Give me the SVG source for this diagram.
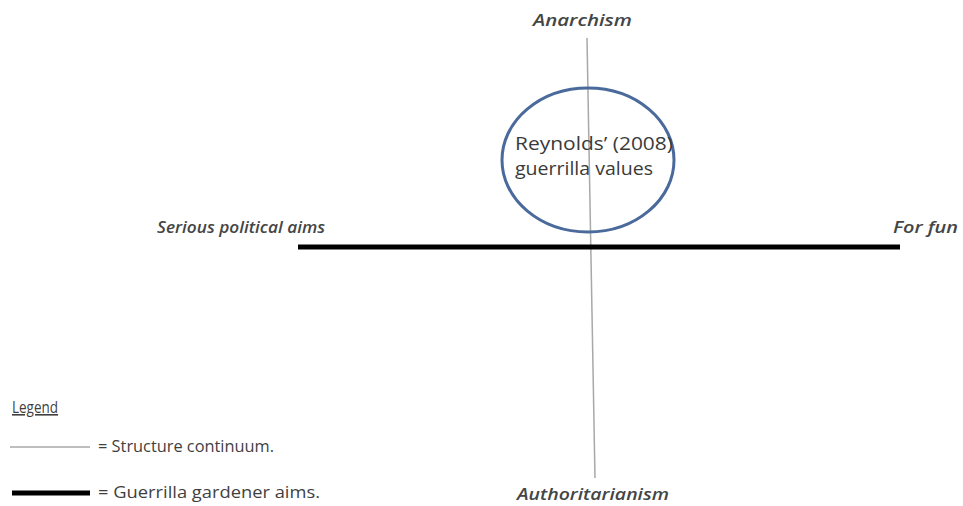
<svg xmlns="http://www.w3.org/2000/svg" width="963" height="506" viewBox="0 0 963 506">
<style>
text{font-family:"Open Sans","Liberation Sans",sans-serif;fill:#3a3a3a;font-size:16px}
.it{font-style:italic;font-weight:600;font-size:16px;fill:#454545}
.lg{font-size:16px;fill:#3f3f3f}
.ct{font-size:18px}
.thin{stroke:#a8a8a8;stroke-width:1.5;fill:none}
.thick{stroke:#000;stroke-width:5;fill:none}
</style>
<rect width="963" height="506" fill="#fff"/>
<g id="connectors">
<line class="thin" x1="587" y1="38" x2="595" y2="478"/>
<line class="thick" x1="298" y1="247" x2="900" y2="247"/>
</g>
<g id="anarchism"><text class="it" x="533" y="26" textLength="99" lengthAdjust="spacingAndGlyphs">Anarchism</text></g>
<g id="authoritarianism"><text class="it" x="517" y="500" textLength="152" lengthAdjust="spacingAndGlyphs">Authoritarianism</text></g>
<g id="serious"><text class="it" x="157" y="233" textLength="168" lengthAdjust="spacingAndGlyphs">Serious political aims</text></g>
<g id="forfun"><text class="it" x="893" y="233" textLength="65" lengthAdjust="spacingAndGlyphs">For fun</text></g>
<g id="reynolds">
<ellipse cx="588" cy="160" rx="86" ry="72" fill="none" stroke="#4a6a9c" stroke-width="3"/>
<text class="ct" x="515" y="150" textLength="158" lengthAdjust="spacingAndGlyphs">Reynolds’ (2008)</text>
<text class="ct" x="515" y="175" textLength="138" lengthAdjust="spacingAndGlyphs">guerrilla values</text>
</g>
<g id="legend">
<text class="lg" x="12" y="413" text-decoration="underline" textLength="46" lengthAdjust="spacingAndGlyphs">Legend</text>
<line class="thin" x1="10" y1="447" x2="90" y2="447"/>
<text class="lg" x="98" y="452" textLength="176" lengthAdjust="spacingAndGlyphs">= Structure continuum.</text>
<line class="thick" x1="12" y1="493" x2="90" y2="493"/>
<text class="lg" x="98" y="498" textLength="222" lengthAdjust="spacingAndGlyphs">= Guerrilla gardener aims.</text>
</g>
</svg>
